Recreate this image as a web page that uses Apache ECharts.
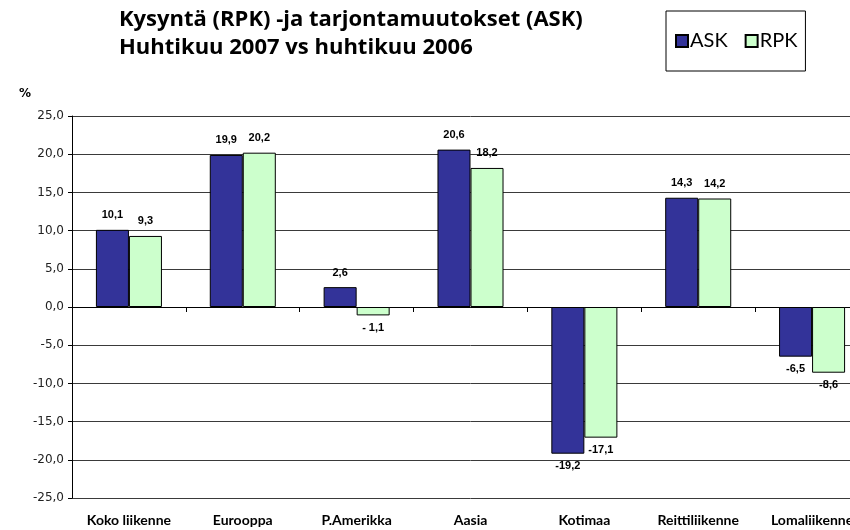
<!DOCTYPE html>
<html>
<head>
<meta charset="utf-8">
<script src="https://cdn.jsdelivr.net/npm/echarts@6/dist/echarts.min.js"></script>
<style>html,body{margin:0;padding:0;background:#fff;overflow:hidden}#c{width:869px;height:530px}</style>
</head>
<body>
<div id="c"></div>
<script>
var categories = ['Koko liikenne', 'Eurooppa', 'P.Amerikka', 'Aasia', 'Kotimaa', 'Reittiliikenne', 'Lomaliikenne'];
var askValues = [10.1, 19.9, 2.6, 20.6, -19.2, 14.3, -6.5];
var rpkValues = [9.3, 20.2, -1.1, 18.2, -17.1, 14.2, -8.6];
var seriesNames = ['ASK', 'RPK'];
var titleLines = ['Kysyntä (RPK) -ja tarjontamuutokset (ASK)', 'Huhtikuu 2007 vs huhtikuu 2006'];
var yUnit = '%';

function fmt(v) { return v.toFixed(1).replace('.', ','); }
function labelFor(v) {
  // original shows "- 1,1" for the small negative value
  if (v === -1.1) return '- 1,1';
  return fmt(v);
}
function toData(arr) {
  return arr.map(function (v) {
    return {
      value: v,
      label: {
        position: v >= 0 ? 'top' : 'bottom',
        distance: v >= 0 ? 9 : 7,
        formatter: labelFor(v)
      }
    };
  });
}

var chart = echarts.init(document.getElementById('c'), null, {renderer: 'canvas'});
var labelStyle = {show: true, fontFamily: 'Liberation Sans, Arial, sans-serif', fontWeight: 'bold', fontSize: 11, color: '#000'};
chart.setOption({
  animation: false,
  title: {
    text: titleLines.join('\n'),
    left: 114, top: 1,
    textStyle: {fontFamily: 'Open Sans', fontWeight: 'bold', fontSize: 22, lineHeight: 28, color: '#000'}
  },
  legend: {
    data: seriesNames,
    left: 666, top: 11,
    padding: [20, 8, 20, 9],
    borderColor: '#000', borderWidth: 1,
    itemWidth: 12, itemHeight: 12, itemGap: 17,
    icon: 'rect',
    textStyle: {fontFamily: 'Lato', fontSize: 20, color: '#000', padding: [0, 0, 0, -3]}
  },
  graphic: [{
    type: 'text', left: 19, top: 88,
    style: {text: yUnit, font: 'bold 12px DejaVu Sans', fill: '#000'}
  }],
  grid: {left: 72, right: 0, top: 116, bottom: 32, containLabel: false},
  xAxis: {
    type: 'category',
    data: categories,
    axisLine: {onZero: true, lineStyle: {color: '#000', width: 1}},
    axisTick: {show: true, length: 5, lineStyle: {color: '#000'}},
    axisLabel: {
      interval: 0,
      fontFamily: 'Lato', fontWeight: 'bold', fontSize: 14, color: '#000',
      margin: 15
    }
  },
  yAxis: {
    type: 'value',
    min: -25, max: 25, interval: 5,
    axisLine: {show: true, lineStyle: {color: '#000'}},
    axisTick: {show: true, length: 4, lineStyle: {color: '#000'}},
    axisLabel: {fontFamily: 'DejaVu Sans', fontSize: 12, color: '#222', margin: 8, formatter: fmt},
    splitLine: {show: true, lineStyle: {color: '#3a3a3a', width: 1}}
  },
  series: [{
    name: seriesNames[0], type: 'bar',
    data: toData(askValues),
    barGap: '0%', barCategoryGap: '42%',
    itemStyle: {color: '#333399', borderColor: '#000', borderWidth: 1},
    label: labelStyle
  }, {
    name: seriesNames[1], type: 'bar',
    data: toData(rpkValues),
    itemStyle: {color: '#ccffcc', borderColor: '#000', borderWidth: 1},
    label: labelStyle
  }]
});
</script>
</body>
</html>
